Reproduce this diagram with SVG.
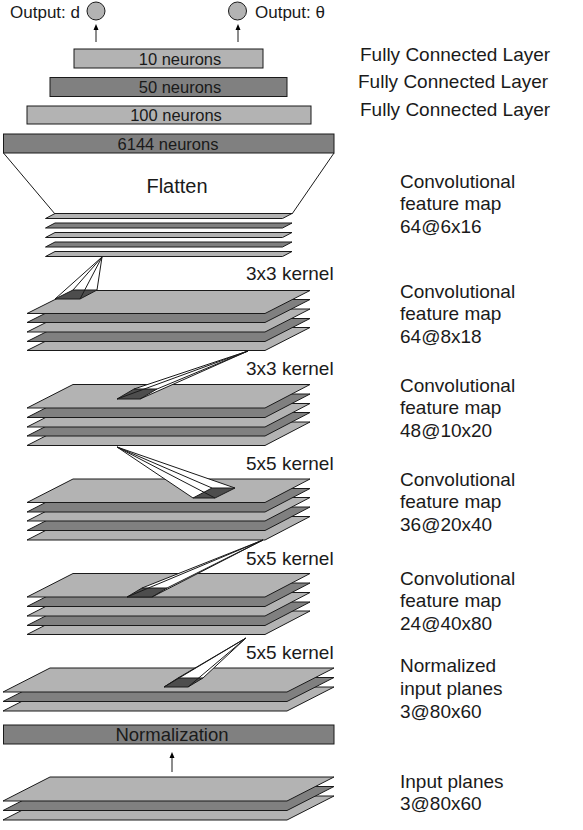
<svg xmlns="http://www.w3.org/2000/svg" width="583" height="830" viewBox="0 0 583 830">
<style>
text{font-family:"Liberation Sans",Arial,sans-serif;fill:#1a1a1a}
.lt{fill:#b3b3b3;stroke:#1a1a1a;stroke-width:1}
.dk{fill:#808080;stroke:#1a1a1a;stroke-width:1}
.kb{fill:#4d4d4d;stroke:#1a1a1a;stroke-width:1}
.hull{fill:#ffffff;stroke:none}
.ln{stroke:#1a1a1a;stroke-width:1;fill:none}
.lab{font-size:19px}
.box{font-size:16.5px;text-anchor:middle}
</style>
<defs>
<marker id="ah" markerWidth="6" markerHeight="6" refX="3" refY="3" orient="auto" markerUnits="userSpaceOnUse">
<path d="M0,0.5 L6,3 L0,5.5 Z" fill="#000"/>
</marker>
</defs>

<g id="outputs">
<circle cx="96" cy="11" r="9" class="lt"/>
<circle cx="237.5" cy="11" r="9" class="lt"/>
<text x="80" y="17.5" style="font-size:17px;text-anchor:end">Output: d</text>
<text x="255" y="17.5" style="font-size:17px">Output: θ</text>
</g>

<g id="fc10"><rect x="74" y="49" width="189" height="19" class="lt"/><text x="180" y="64.5" class="box">10 neurons</text></g>
<g id="fc50"><rect x="50" y="77.5" width="237" height="19" class="dk"/><text x="180" y="93" class="box">50 neurons</text></g>
<g id="fc100"><rect x="27" y="106" width="284" height="18" class="lt"/><text x="176" y="121" class="box">100 neurons</text></g>
<g id="fc6144"><rect x="3.5" y="134" width="330.5" height="19" class="dk"/><text x="168" y="149.5" class="box">6144 neurons</text></g>

<g id="flatten">
<path d="M3.5,153 L55,214 M334,153 L292,214" class="ln"/>
<text x="177" y="193" style="font-size:20px;text-anchor:middle">Flatten</text>
</g>

<g id="fmap64_6x16">
<polygon points="55,251.5 292,251.5 282.5,256.5 45.5,256.5" class="lt"/>
<polygon points="55,242 292,242 282.5,247 45.5,247" class="dk"/>
<polygon points="55,232.5 292,232.5 282.5,237.5 45.5,237.5" class="lt"/>
<polygon points="55,223 292,223 282.5,228 45.5,228" class="dk"/>
<polygon points="55,213.5 292,213.5 282.5,218.5 45.5,218.5" class="lt"/>
</g>

<g id="fmap64_8x18">
<polygon points="73,327.5 310,327.5 265,350.5 27,350.5" class="lt"/>
<polygon points="73,318.5 310,318.5 265,341.5 27,341.5" class="dk"/>
<polygon points="73,309 310,309 265,332 27,332" class="lt"/>
<polygon points="73,299.5 310,299.5 265,322.5 27,322.5" class="dk"/>
<polygon points="73,290.5 310,290.5 265,313.5 27,313.5" class="lt"/>
</g>

<g id="fmap48_10x20">
<polygon points="73,422 310,422 265,445.5 27,445.5" class="lt"/>
<polygon points="73,412.5 310,412.5 265,436 27,436" class="dk"/>
<polygon points="73,403.5 310,403.5 265,427 27,427" class="lt"/>
<polygon points="73,394 310,394 265,417.5 27,417.5" class="dk"/>
<polygon points="73,384.5 310,384.5 265,408 27,408" class="lt"/>
</g>

<g id="fmap36_20x40">
<polygon points="73,516.5 310,516.5 265,540 27,540" class="lt"/>
<polygon points="73,507 310,507 265,530.5 27,530.5" class="dk"/>
<polygon points="73,497.5 310,497.5 265,521 27,521" class="lt"/>
<polygon points="73,488.5 310,488.5 265,512 27,512" class="dk"/>
<polygon points="73,479 310,479 265,502.5 27,502.5" class="lt"/>
</g>

<g id="fmap24_40x80">
<polygon points="73,611 310,611 265,634.5 27,634.5" class="lt"/>
<polygon points="73,602 310,602 265,625.5 27,625.5" class="dk"/>
<polygon points="73,592.5 310,592.5 265,616 27,616" class="lt"/>
<polygon points="73,583 310,583 265,606.5 27,606.5" class="dk"/>
<polygon points="73,573.5 310,573.5 265,597 27,597" class="lt"/>
</g>

<g id="norm_planes">
<polygon points="50,687 334,687 287,711 3,711" class="lt"/>
<polygon points="50,677.5 334,677.5 287,701.5 3,701.5" class="dk"/>
<polygon points="50,668 334,668 287,692 3,692" class="lt"/>
</g>

<g id="normalization"><rect x="3.5" y="725" width="330.5" height="19" class="dk"/><text x="172" y="741" style="font-size:18.5px;text-anchor:middle">Normalization</text></g>

<g id="input_planes">
<polygon points="50,796 334,796 287,820 3,820" class="lt"/>
<polygon points="50,786.5 334,786.5 287,810.5 3,810.5" class="dk"/>
<polygon points="50,777 334,777 287,801 3,801" class="lt"/>
</g>

<g id="connectors">
<line x1="96" y1="42" x2="96" y2="27" class="ln" stroke-width="1.5" marker-end="url(#ah)"/>
<line x1="238" y1="42" x2="238" y2="27" class="ln" stroke-width="1.5" marker-end="url(#ah)"/>
<line x1="172" y1="772" x2="172" y2="755" class="ln" stroke-width="1.5" marker-end="url(#ah)"/>
<g id="kernel1">
<polygon points="102,257 55,299 80,299 97,290" class="hull"/>
<polygon points="73,290 97,290 80,299 55,299" class="kb"/>
<path d="M102,257 L55,299 M102,257 L80,299 M102,257 L97,290 M102,257 L73,290" class="ln"/>
</g>
<g id="kernel2">
<polygon points="248,351 134,389 117,399 140,399" class="hull"/>
<polygon points="134,389 157,389 140,399 117,399" class="kb"/>
<path d="M248,351 L117,399 M248,351 L140,399 M248,351 L157,389 M248,351 L134,389" class="ln"/>
</g>
<g id="kernel3">
<polygon points="117,447 193,498 215,498 235,488" class="hull"/>
<polygon points="212,488 235,488 215,498 193,498" class="kb"/>
<path d="M117,447 L193,498 M117,447 L215,498 M117,447 L235,488 M117,447 L212,488" class="ln"/>
</g>
<g id="kernel4">
<polygon points="263,540 142,588 127,597 152,597" class="hull"/>
<polygon points="142,588 167,588 152,597 127,597" class="kb"/>
<path d="M263,540 L127,597 M263,540 L152,597 M263,540 L167,588 M263,540 L142,588" class="ln"/>
</g>
<g id="kernel5">
<polygon points="246,638 164,687 188,687 203,678" class="hull"/>
<polygon points="178,678 203,678 188,687 164,687" class="kb"/>
<path d="M246,638 L164,687 M246,638 L188,687 M246,638 L203,678 M246,638 L178,678" class="ln"/>
</g>
</g>

<g id="labels" class="lab">
<text x="360" y="61">Fully Connected Layer</text>
<text x="358" y="88">Fully Connected Layer</text>
<text x="360" y="116">Fully Connected Layer</text>
<text x="400" y="188">Convolutional<tspan x="400" dy="22">feature map</tspan><tspan x="400" dy="23">64@6x16</tspan></text>
<text x="246" y="280">3x3 kernel</text>
<text x="400" y="298">Convolutional<tspan x="400" dy="22">feature map</tspan><tspan x="400" dy="23">64@8x18</tspan></text>
<text x="246" y="375">3x3 kernel</text>
<text x="400" y="392">Convolutional<tspan x="400" dy="22">feature map</tspan><tspan x="400" dy="23">48@10x20</tspan></text>
<text x="246" y="470">5x5 kernel</text>
<text x="400" y="486">Convolutional<tspan x="400" dy="22">feature map</tspan><tspan x="400" dy="23">36@20x40</tspan></text>
<text x="246" y="565">5x5 kernel</text>
<text x="400" y="585">Convolutional<tspan x="400" dy="22">feature map</tspan><tspan x="400" dy="23">24@40x80</tspan></text>
<text x="246" y="659">5x5 kernel</text>
<text x="400" y="672">Normalized<tspan x="400" dy="23">input planes</tspan><tspan x="400" dy="23">3@80x60</tspan></text>
<text x="400" y="788">Input planes<tspan x="400" dy="22">3@80x60</tspan></text>
</g>
</svg>
